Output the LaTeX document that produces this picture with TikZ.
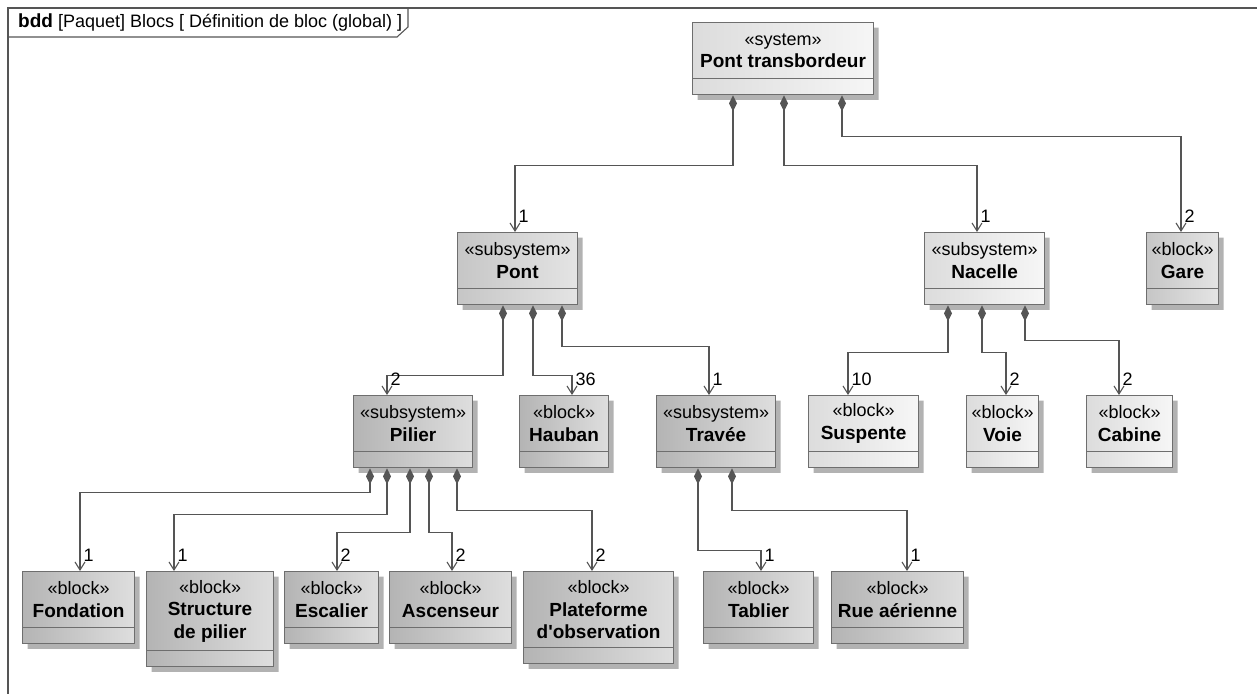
\documentclass[tikz,border=0pt]{standalone}
\usepackage{fontspec}
\setmainfont{Liberation Sans}
\usepackage{xcolor}
\usepackage{tikz}
\usetikzlibrary{
  arrows.meta,
  shapes.multipart,
  shadows
}

% block text: width, height of name part, stereotype, name
\newcommand{\blktxt}[4]{\parbox[c][#2][c]{#1}{\centering «#3»\\{\fontsize{19}{22.5}\selectfont\bfseries #4}}}

\begin{document}
\begin{tikzpicture}[
  x=1pt, y=-1pt,
  every node/.style={font=\fontsize{18}{22.5}\selectfont},
  blk/.style={rectangle split, rectangle split parts=2, draw=cBorder, line width=1.1pt,
    inner sep=0pt, anchor=north west,
    rectangle split empty part height=15pt, rectangle split empty part depth=0pt,
    drop shadow={shadow xshift=5pt, shadow yshift=-5pt, fill=cShadow, opacity=1}},
  dark/.style={blk, left color=cDarkA, right color=cDarkB},
  mid/.style={blk, left color=cMidA, right color=cMidB},
  light/.style={blk, left color=cLightA, right color=cLightB},
  frame/.style={draw=cLine, line width=1.1pt},
  comp/.style={draw=cLine, line width=1.1pt,
    {Diamond[length=16pt,width=8pt]}-{Straight Barb[length=8pt,width=10pt]}},
  mult/.style={anchor=south west, inner sep=0pt, xshift=3pt, yshift=9pt}
]
  % colours
  \definecolor{cLine}{RGB}{85,85,85}
  \definecolor{cBorder}{RGB}{110,110,110}
  \definecolor{cShadow}{RGB}{178,178,178}
  \definecolor{cDarkA}{RGB}{180,180,180}
  \definecolor{cDarkB}{RGB}{222,222,222}
  \definecolor{cMidA}{RGB}{198,198,198}
  \definecolor{cMidB}{RGB}{228,228,228}
  \definecolor{cLightA}{RGB}{220,220,220}
  \definecolor{cLightB}{RGB}{246,246,246}

  \useasboundingbox (0,0) rectangle (1257,693);

  % diagram frame and header
  \draw[frame] (8,720) -- (8,8) -- (1290,8);
  \draw[frame] (8,37) -- (397,37) -- (408,27) -- (408,8);
  \node[anchor=base west, inner sep=0pt] (hdr) at (18,28)
    {{\fontsize{19}{22.5}\selectfont\bfseries bdd} [Paquet] Blocs [ Définition de bloc (global) ]};

  % level 0
  \node[light] (sys) at (692,22) {\blktxt{181pt}{55pt}{system}{Pont transbordeur}};

  % level 1
  \node[mid]   (pont)    at (457,232)  {\blktxt{120pt}{55pt}{subsystem}{Pont}};
  \node[light] (nacelle) at (924,232)  {\blktxt{120pt}{55pt}{subsystem}{Nacelle}};
  \node[mid]   (gare)    at (1146,232) {\blktxt{72pt}{55pt}{block}{Gare}};

  % level 2
  \node[dark]  (pilier)   at (353,395)  {\blktxt{119pt}{55pt}{subsystem}{Pilier}};
  \node[dark]  (hauban)   at (519,395)  {\blktxt{89pt}{55pt}{block}{Hauban}};
  \node[dark]  (travee)   at (656,395)  {\blktxt{119pt}{55pt}{subsystem}{Travée}};
  \node[light] (suspente) at (808,395)  {\blktxt{110pt}{55pt}{block}{Suspente}};
  \node[light] (voie)     at (966,395)  {\blktxt{72pt}{55pt}{block}{Voie}};
  \node[light] (cabine)   at (1086,395) {\blktxt{86pt}{55pt}{block}{Cabine}};

  % level 3
  \node[dark] (fondation)  at (22,571)  {\blktxt{112pt}{55pt}{block}{Fondation}};
  \node[dark] (structure)  at (146,571) {\blktxt{127pt}{78pt}{block}{Structure\\de pilier}};
  \node[dark] (escalier)   at (284,571) {\blktxt{94pt}{55pt}{block}{Escalier}};
  \node[dark] (ascenseur)  at (389,571) {\blktxt{122pt}{55pt}{block}{Ascenseur}};
  \node[dark] (plateforme) at (523,571) {\blktxt{150pt}{75pt}{block}{Plateforme\\d\textquotesingle observation}};
  \node[dark] (tablier)    at (703,571) {\blktxt{110pt}{55pt}{block}{Tablier}};
  \node[dark] (rue)        at (831,571) {\blktxt{132pt}{55pt}{block}{Rue aérienne}};

  % composition links: source/offset/drop/target/offset/multiplicity
  \foreach \src/\sx/\dy/\dst/\dx/\m in {
    sys/41/70/pont/58/1, sys/92/70/nacelle/53/1, sys/150/41/gare/35/2,
    pont/46/70/pilier/34/2, pont/76/70/hauban/53/36, pont/105/41/travee/53/1,
    nacelle/24/47/suspente/40/10, nacelle/58/47/voie/40/2, nacelle/101/35/cabine/33/2,
    pilier/17/24/fondation/58/1, pilier/34/46/structure/28/1,
    pilier/57/64/escalier/53/2, pilier/76/64/ascenseur/63/2,
    pilier/104/42/plateforme/69/2,
    travee/42/82/tablier/58/1, travee/76/42/rue/76/1}{
    \draw[comp] ([xshift=\sx pt]\src.south west) -- ++(0,\dy)
      -| ([xshift=\dx pt]\dst.north west) node[mult] {\m};
  }
\end{tikzpicture}
\end{document}
